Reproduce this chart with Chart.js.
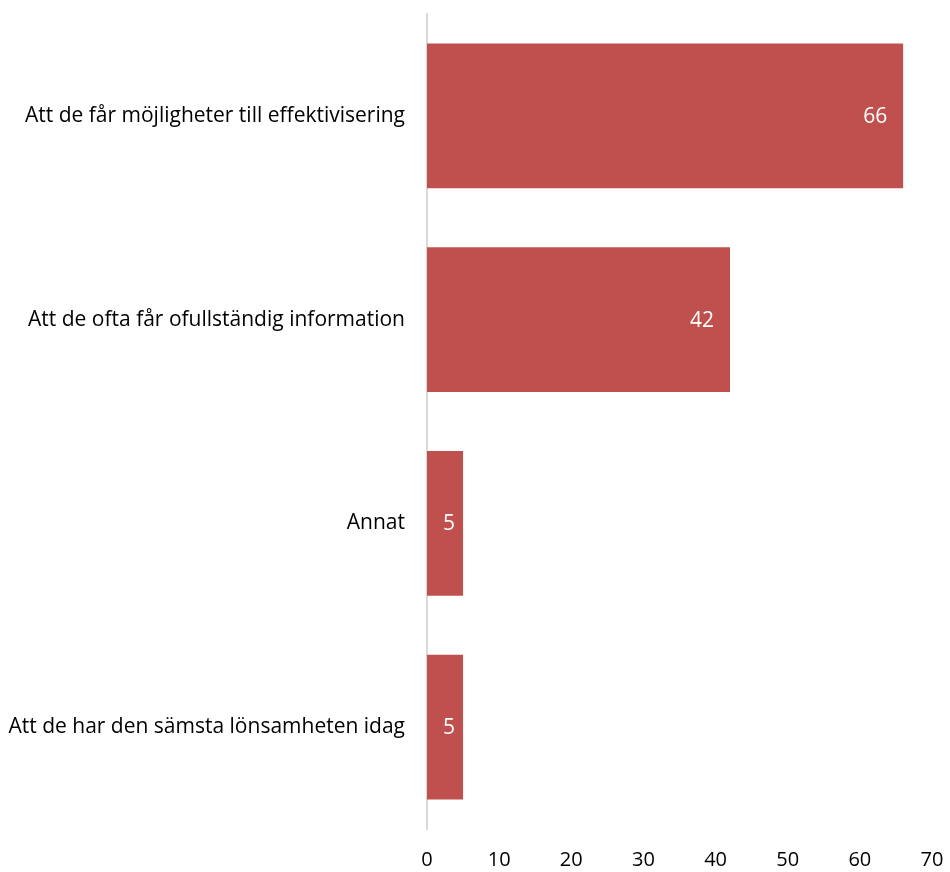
<!DOCTYPE html>
<html>
<head>
<meta charset="utf-8">
<script src="https://cdn.jsdelivr.net/npm/chart.js@4/dist/chart.umd.min.js"></script>
<style>
  html, body { margin: 0; padding: 0; background: #ffffff; }
  #wrap { width: 950px; height: 872px; }
</style>
</head>
<body>
<div id="wrap"><canvas id="c" width="950" height="872"></canvas></div>
<script>
const categories = [
  'Att de får möjligheter till effektivisering',
  'Att de ofta får ofullständig information',
  'Annat',
  'Att de har den sämsta lönsamheten idag'
];
const values = [66, 42, 5, 5];
const xTicks = [0, 10, 20, 30, 40, 50, 60, 70];

const FONT = '"Open Sans", Lato, sans-serif';
const BAR_COLOR = '#c0504d';

// White value labels, placed near the end of each bar (centred on short bars)
const valueLabels = {
  id: 'valueLabels',
  afterDatasetsDraw(chart) {
    const ctx = chart.ctx;
    const meta = chart.getDatasetMeta(0);
    ctx.save();
    ctx.font = '21px ' + FONT;
    ctx.fillStyle = '#ffffff';
    ctx.textBaseline = 'middle';
    meta.data.forEach((bar, i) => {
      const text = String(values[i]);
      const w = ctx.measureText(text).width;
      const left = bar.base;
      const right = bar.x;
      let x;
      if (right - left > w + 34) {
        ctx.textAlign = 'right';
        x = right - 16;
      } else {
        ctx.textAlign = 'center';
        x = left + (right - left) / 2 + 4;
      }
      ctx.fillText(text, x, bar.y + 1);
    });
    ctx.restore();
  }
};

new Chart(document.getElementById('c'), {
  type: 'bar',
  data: {
    labels: categories,
    datasets: [{
      data: values,
      backgroundColor: BAR_COLOR,
      borderWidth: 0,
      barPercentage: 0.71,
      categoryPercentage: 1
    }]
  },
  options: {
    indexAxis: 'y',
    responsive: false,
    animation: false,
    layout: { padding: { top: 14, right: 18, left: 0, bottom: 0 } },
    plugins: { legend: { display: false }, tooltip: { enabled: false } },
    scales: {
      x: {
        min: 0,
        max: 70,
        afterBuildTicks(scale) {
          scale.ticks = xTicks.map(v => ({ value: v }));
        },
        afterFit(scale) {
          scale.height = 43;
          scale.paddingLeft = 0;
          scale.paddingRight = 0;
        },
        grid: { display: false, drawTicks: false },
        border: { display: false },
        ticks: {
          padding: 19,
          color: '#000000',
          font: { family: FONT, size: 20 }
        }
      },
      y: {
        afterFit(scale) {
          scale.width = 427;
          scale.paddingTop = 0;
          scale.paddingBottom = 0;
        },
        grid: { display: false, drawTicks: false },
        border: { display: true, color: '#d9d9d9', width: 2 },
        ticks: {
          padding: 22,
          color: '#000000',
          font: { family: FONT, size: 21 }
        }
      }
    }
  },
  plugins: [valueLabels]
});
</script>
</body>
</html>
